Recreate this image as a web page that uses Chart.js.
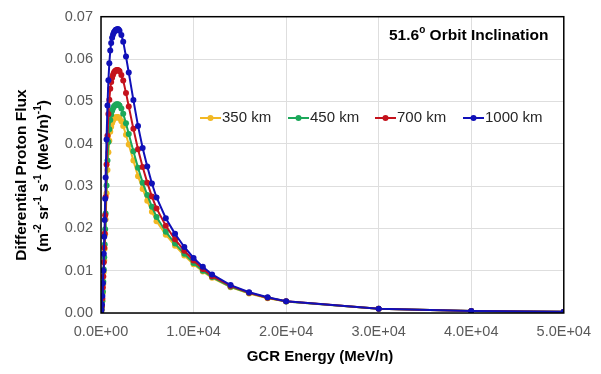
<!DOCTYPE html>
<html>
<head>
<meta charset="utf-8">
<script src="https://cdn.jsdelivr.net/npm/chart.js@4"></script>
<style>
  body { margin: 0; background: #fff; }
  #wrap { width: 601px; height: 374px; }
</style>
</head>
<body>
<div id="wrap"><canvas id="chart" width="601" height="374"></canvas></div>
<script>
// GCR energy (MeV/n)
const energy = [10, 50, 100, 150, 200, 250, 300, 350, 400, 450, 500, 600, 700, 800, 900, 1000,
  1100, 1200, 1300, 1400, 1500, 1600, 1700, 1800, 1900, 2000, 2200, 2400, 2700, 3000, 3500,
  4000, 4500, 5000, 5500, 6000, 7000, 8000, 9000, 10000, 11000, 12000, 14000, 16000, 18000,
  20000, 30000, 40000, 50000];

const flux350 = [0.0001, 0.0006, 0.0014, 0.0028, 0.0048, 0.0069, 0.0097, 0.0124, 0.0152, 0.0186,
  0.0221, 0.0283, 0.0338, 0.0380, 0.0407, 0.0428, 0.0440, 0.0449, 0.0455, 0.0459, 0.0461, 0.0462,
  0.0463, 0.0463, 0.0462, 0.0460, 0.0453, 0.0442, 0.0421, 0.0398, 0.0360, 0.0323, 0.0293, 0.0265,
  0.0239, 0.0217, 0.0185, 0.0159, 0.0136, 0.0115, 0.0098, 0.0083, 0.0061, 0.0046, 0.0035, 0.0027,
  0.0010, 0.0005, 0.0003];

const flux450 = [0.0001, 0.0006, 0.0015, 0.0029, 0.0051, 0.0074, 0.0103, 0.0132, 0.0162, 0.0198,
  0.0235, 0.0301, 0.0360, 0.0404, 0.0434, 0.0456, 0.0469, 0.0478, 0.0484, 0.0488, 0.0490, 0.0492,
  0.0493, 0.0493, 0.0492, 0.0490, 0.0483, 0.0471, 0.0448, 0.0423, 0.0382, 0.0343, 0.0308, 0.0279,
  0.0251, 0.0227, 0.0192, 0.0164, 0.0140, 0.0118, 0.0100, 0.0085, 0.0062, 0.0047, 0.0036, 0.0027,
  0.0010, 0.0005, 0.0003];

const flux700 = [0.0002, 0.0007, 0.0017, 0.0034, 0.0060, 0.0086, 0.0120, 0.0154, 0.0188, 0.0231,
  0.0274, 0.0351, 0.0419, 0.0470, 0.0504, 0.0530, 0.0546, 0.0556, 0.0563, 0.0568, 0.0571, 0.0573,
  0.0574, 0.0574, 0.0573, 0.0571, 0.0562, 0.0549, 0.0520, 0.0488, 0.0435, 0.0387, 0.0345, 0.0308,
  0.0275, 0.0247, 0.0206, 0.0174, 0.0147, 0.0124, 0.0104, 0.0087, 0.0064, 0.0048, 0.0036, 0.0028,
  0.0010, 0.0005, 0.0003];

const flux1000 = [0.0002, 0.0008, 0.0020, 0.0040, 0.0070, 0.0100, 0.0140, 0.0180, 0.0220, 0.0270,
  0.0320, 0.0410, 0.0490, 0.0550, 0.0590, 0.0620, 0.0638, 0.0650, 0.0658, 0.0663, 0.0666, 0.0669,
  0.0670, 0.0671, 0.0670, 0.0667, 0.0657, 0.0641, 0.0606, 0.0568, 0.0503, 0.0442, 0.0390, 0.0346,
  0.0306, 0.0273, 0.0224, 0.0187, 0.0156, 0.0130, 0.0109, 0.0091, 0.0066, 0.0049, 0.0037, 0.0028,
  0.0010, 0.0005, 0.0003];

const seriesNames = ["350 km", "450 km", "700 km", "1000 km"];
const seriesColors = ["#F2B824", "#1CA85A", "#C4121C", "#1010B8"];
const seriesData = [flux350, flux450, flux700, flux1000];

function toPoints(arr) {
  return arr.map((v, i) => ({ x: energy[i], y: v }));
}

function sciLabel(v) {
  let s = Number(v).toExponential(1);
  let parts = s.split("e");
  let exp = parseInt(parts[1]);
  let sign = exp < 0 ? "-" : "+";
  let e = Math.abs(exp);
  return parts[0].toUpperCase() + "E" + sign + (e < 10 ? "0" + e : e);
}

// draw a string made of pieces, some raised as superscripts
function drawRich(ctx, pieces, x, y, size, align) {
  let total = 0;
  pieces.forEach((p) => {
    ctx.font = "bold " + (p.sup ? Math.round(size * 0.65) : size) + "px 'Liberation Sans', Arial, sans-serif";
    total += ctx.measureText(p.t).width;
  });
  let cx = align == "center" ? x - total / 2 : x;
  pieces.forEach((p) => {
    ctx.font = "bold " + (p.sup ? Math.round(size * 0.65) : size) + "px 'Liberation Sans', Arial, sans-serif";
    ctx.fillText(p.t, cx, p.sup ? y - size * 0.38 : y);
    cx += ctx.measureText(p.t).width;
  });
}

const textPlugin = {
  id: "textPlugin",
  afterDraw: (chart) => {
    const ctx = chart.ctx;
    const area = chart.chartArea;
    ctx.save();
    // plot border
    ctx.strokeStyle = "#000";
    ctx.lineWidth = 1.5;
    ctx.strokeRect(area.left, area.top, area.right - area.left, area.bottom - area.top);

    ctx.fillStyle = "#000";
    ctx.textBaseline = "middle";
    ctx.textAlign = "left";
    drawRich(ctx, [{ t: "51.6" }, { t: "o", sup: true }, { t: " Orbit Inclination" }], 389, 36, 15.5, "left");

    // legend
    const legX = [200, 288, 375, 463];
    ctx.font = "15px 'Liberation Sans', Arial, sans-serif";
    seriesNames.forEach((name, i) => {
      const lx = legX[i];
      ctx.strokeStyle = seriesColors[i];
      ctx.lineWidth = 2;
      ctx.beginPath();
      ctx.moveTo(lx, 118);
      ctx.lineTo(lx + 21, 118);
      ctx.stroke();
      ctx.fillStyle = seriesColors[i];
      ctx.beginPath();
      ctx.arc(lx + 10.5, 118, 3, 0, Math.PI * 2);
      ctx.fill();
      ctx.fillStyle = "#262626";
      ctx.fillText(name, lx + 22, 118);
    });

    // axis titles
    ctx.fillStyle = "#000";
    ctx.font = "bold 15px 'Liberation Sans', Arial, sans-serif";
    ctx.textAlign = "center";
    ctx.fillText("GCR Energy (MeV/n)", 320, 357);

    ctx.save();
    ctx.translate(22, 175);
    ctx.rotate(-Math.PI / 2);
    ctx.textAlign = "left";
    drawRich(ctx, [{ t: "Differential Proton Flux" }], 0, 0, 15.5, "center");
    ctx.restore();
    ctx.save();
    ctx.translate(44, 176);
    ctx.rotate(-Math.PI / 2);
    ctx.textAlign = "left";
    drawRich(ctx, [{ t: "(m" }, { t: "-2", sup: true }, { t: " sr" }, { t: "-1", sup: true },
      { t: " s" }, { t: "-1", sup: true }, { t: " (MeV/n)" }, { t: "-1", sup: true }, { t: ")" }], 0, 0, 15.5, "center");
    ctx.restore();
    ctx.restore();
  },
};

const datasets = seriesData.map((arr, i) => ({
  label: seriesNames[i],
  data: toPoints(arr),
  borderColor: seriesColors[i],
  backgroundColor: seriesColors[i],
  borderWidth: 2,
  pointRadius: 3,
  pointBorderWidth: 0,
  pointHoverRadius: 3,
  tension: 0,
  order: 4 - i,
}));

new Chart(document.getElementById("chart"), {
  type: "line",
  data: { datasets: datasets },
  options: {
    responsive: false,
    animation: false,
    layout: { padding: { left: 0, right: 34, top: 12, bottom: 0 } },
    plugins: { legend: { display: false }, tooltip: { enabled: false } },
    scales: {
      x: {
        type: "linear",
        min: 0,
        max: 50000,
        grid: { color: "#dedede", drawTicks: false },
        border: { display: false },
        afterFit: (scale) => { scale.height = 61; },
        ticks: {
          stepSize: 10000,
          padding: 10,
          color: "#595959",
          font: { family: "'Liberation Sans', Arial, sans-serif", size: 14.5 },
          maxRotation: 0,
          callback: (v) => sciLabel(v),
        },
      },
      y: {
        min: 0,
        max: 0.07,
        grid: { color: "#dedede", drawTicks: false },
        border: { display: false },
        afterFit: (scale) => { scale.width = 101; },
        ticks: {
          stepSize: 0.01,
          padding: 8,
          color: "#595959",
          font: { family: "'Liberation Sans', Arial, sans-serif", size: 14.5 },
          callback: (v) => Number(v).toFixed(2),
        },
      },
    },
  },
  plugins: [textPlugin],
});
</script>
</body>
</html>
